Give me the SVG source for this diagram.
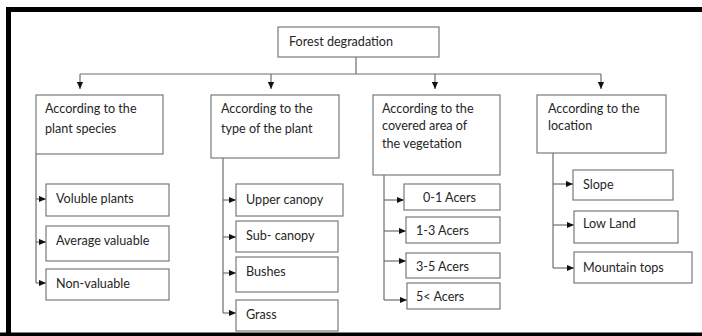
<svg xmlns="http://www.w3.org/2000/svg" width="702" height="336" viewBox="0 0 702 336">
<defs>
<style>
.box{fill:#fff;stroke:#7a7a7a;stroke-width:1.2}
.t{font-family:Lato,"Open Sans","Liberation Sans",sans-serif;font-size:12.6px;fill:#262626}
.c{fill:none;stroke:#6e6e6e;stroke-width:1.2}
</style>
<marker id="ah" viewBox="0 0 8 8" refX="8" refY="4" markerWidth="7" markerHeight="7" markerUnits="userSpaceOnUse" orient="auto">
<path d="M0,0.5 L8,4 L0,7.5 Z" fill="#111"/>
</marker>
</defs>
<rect width="702" height="336" fill="#fff"/>
<path d="M8.5,336 V9.5 H702" fill="none" stroke="#000" stroke-width="5"/>
<path d="M0,334.5 H702" stroke="#000" stroke-width="4"/>

<g id="connectors">
<path class="c" d="M356,57 V74 M80,74 H601"/>
<path class="c" d="M80,74 V89" marker-end="url(#ah)"/>
<path class="c" d="M271,74 V89" marker-end="url(#ah)"/>
<path class="c" d="M435,74 V89" marker-end="url(#ah)"/>
<path class="c" d="M601,74 V89" marker-end="url(#ah)"/>

<path class="c" d="M36,154 V283"/>
<path class="c" d="M36,199 H46" marker-end="url(#ah)"/>
<path class="c" d="M36,242 H46" marker-end="url(#ah)"/>
<path class="c" d="M36,283 H46" marker-end="url(#ah)"/>

<path class="c" d="M223,158 V313"/>
<path class="c" d="M223,200 H236" marker-end="url(#ah)"/>
<path class="c" d="M223,237 H236" marker-end="url(#ah)"/>
<path class="c" d="M223,273 H236" marker-end="url(#ah)"/>
<path class="c" d="M223,313 H236" marker-end="url(#ah)"/>

<path class="c" d="M384,175 V300"/>
<path class="c" d="M384,200 H404" marker-end="url(#ah)"/>
<path class="c" d="M384,231 H406" marker-end="url(#ah)"/>
<path class="c" d="M384,261 H406" marker-end="url(#ah)"/>
<path class="c" d="M384,300 H407" marker-end="url(#ah)"/>

<path class="c" d="M553,153 V268"/>
<path class="c" d="M553,184 H573" marker-end="url(#ah)"/>
<path class="c" d="M553,225 H574" marker-end="url(#ah)"/>
<path class="c" d="M553,268 H574" marker-end="url(#ah)"/>
</g>

<g id="root"><rect class="box" x="278" y="27" width="161" height="30"/><text class="t" x="289" y="46">Forest degradation</text></g>

<g id="species"><rect class="box" x="36" y="95" width="127" height="59"/><text class="t" x="45" y="113">According to the</text><text class="t" x="45" y="133">plant species</text></g>
<g id="type"><rect class="box" x="211" y="95" width="128" height="63"/><text class="t" x="221" y="113">According to the</text><text class="t" x="221" y="133">type of the plant</text></g>
<g id="area"><rect class="box" x="373" y="95" width="127" height="80"/><text class="t" x="382" y="113">According to the</text><text class="t" x="382" y="130">covered area of</text><text class="t" x="382" y="148">the vegetation</text></g>
<g id="location"><rect class="box" x="537" y="95" width="129" height="58"/><text class="t" x="548" y="113">According to the</text><text class="t" x="548" y="130">location</text></g>

<g id="voluble"><rect class="box" x="46" y="184" width="123" height="32"/><text class="t" x="56" y="203">Voluble plants</text></g>
<g id="average"><rect class="box" x="46" y="226" width="123" height="35"/><text class="t" x="56" y="245">Average valuable</text></g>
<g id="nonvaluable"><rect class="box" x="46" y="269" width="123" height="31"/><text class="t" x="56" y="288">Non-valuable</text></g>

<g id="upper"><rect class="box" x="236" y="184" width="107" height="32"/><text class="t" x="246" y="204">Upper canopy</text></g>
<g id="sub"><rect class="box" x="236" y="221" width="102" height="31"/><text class="t" x="246" y="240">Sub- canopy</text></g>
<g id="bushes"><rect class="box" x="236" y="257" width="102" height="35"/><text class="t" x="246" y="276">Bushes</text></g>
<g id="grass"><rect class="box" x="236" y="300" width="102" height="31"/><text class="t" x="246" y="319">Grass</text></g>

<g id="a01"><rect class="box" x="404" y="184" width="96" height="26"/><text class="t" x="423" y="202">0-1 Acers</text></g>
<g id="a13"><rect class="box" x="406" y="217" width="94" height="26"/><text class="t" x="416" y="235">1-3 Acers</text></g>
<g id="a35"><rect class="box" x="406" y="253" width="94" height="25"/><text class="t" x="416" y="271">3-5 Acers</text></g>
<g id="a5"><rect class="box" x="407" y="283" width="93" height="26"/><text class="t" x="416" y="301">5&lt; Acers</text></g>

<g id="slope"><rect class="box" x="573" y="170" width="100" height="30"/><text class="t" x="583" y="189">Slope</text></g>
<g id="lowland"><rect class="box" x="574" y="211" width="104" height="32"/><text class="t" x="583" y="228">Low Land</text></g>
<g id="mountain"><rect class="box" x="574" y="252" width="118" height="31"/><text class="t" x="583" y="272">Mountain tops</text></g>
</svg>
